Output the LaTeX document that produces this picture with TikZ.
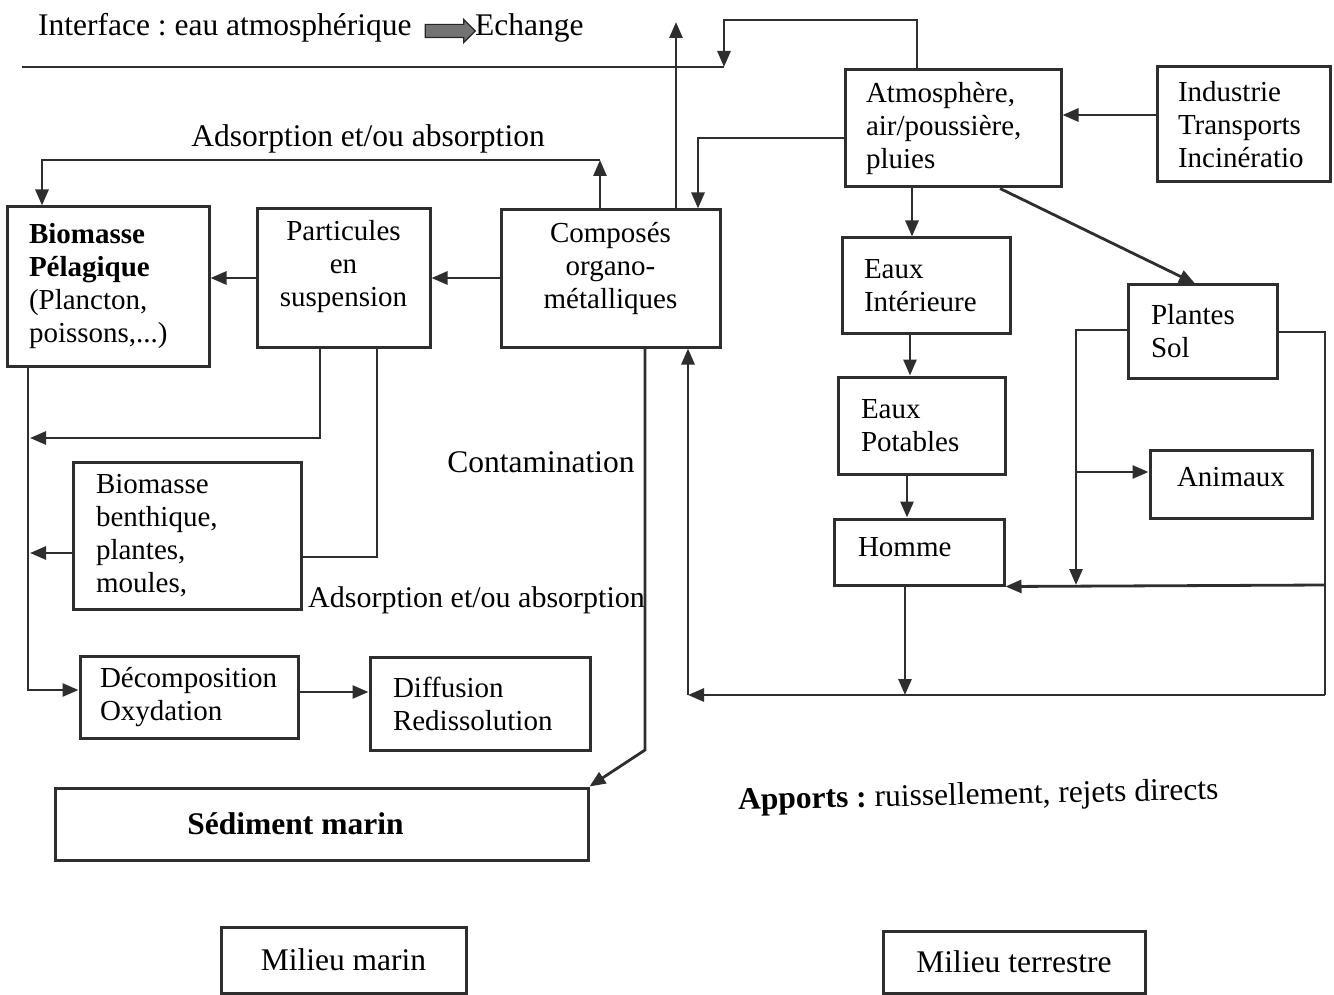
\documentclass[tikz,border=0pt]{standalone}
\usepackage{fontspec}
\setmainfont{Liberation Serif}
\usetikzlibrary{arrows.meta,shapes.arrows}
\hyphenpenalty=10000
\exhyphenpenalty=10000
\frenchspacing
\begin{document}
\begin{tikzpicture}[x=1pt,y=-1pt,
  ln/.style={draw=black!82, line width=2.8pt},
  arr/.style={ln, -{Triangle[length=16pt,width=13pt]}},
  box/.style={draw=black!82, line width=3pt, font=\fontsize{29}{33}\selectfont, inner ysep=0pt},
  lbox/.style={box, align=left},
  cbox/.style={box, align=center},
  lbl/.style={font=\fontsize{31.5}{36}\selectfont, inner sep=0pt}]
\useasboundingbox (0,0) rectangle (1334,995);

% ---- boxes ----
\node[lbox, minimum width=216pt, minimum height=117pt, text width=174pt, inner xsep=21pt] (atm) at (953,128.5) {Atmosphère,\\air/poussière,\\pluies};
\node[lbox, minimum width=173pt, minimum height=115pt, text width=131pt, inner xsep=21pt] (ind) at (1243.5,124.5) {Industrie\\Transports\\Incinératio};
\node[lbox, minimum width=202pt, minimum height=159pt, text width=158pt, inner xsep=22pt] (bp) at (108,286.5) {\textbf{Biomasse}\\\textbf{Pélagique}\\(Plancton,\\poissons,...)};
\node[cbox, minimum width=173pt, minimum height=138pt, text depth=30pt] (part) at (343.5,278) {Particules\\en\\suspension};
\node[cbox, minimum width=219pt, minimum height=137pt, text depth=27pt] (comp) at (610.5,278.5) {Composés\\organo-\\métalliques};
\node[lbox, minimum width=168pt, minimum height=95pt, text width=124pt, inner xsep=22pt] (eint) at (926,285.5) {Eaux\\Intérieure};
\node[lbox, minimum width=149pt, minimum height=93pt, text width=103pt, inner xsep=23pt] (pl) at (1202.5,331.5) {Plantes\\Sol};
\node[lbox, minimum width=167pt, minimum height=97pt, text width=121pt, inner xsep=23pt] (epot) at (921.5,425.5) {Eaux\\Potables};
\node[cbox, minimum width=162pt, minimum height=68pt, text depth=14pt] (anim) at (1231,484) {Animaux};
\node[lbox, minimum width=170pt, minimum height=66pt, text width=122pt, inner xsep=24pt, text depth=10pt] (homme) at (919,552) {Homme};
\node[lbox, minimum width=228pt, minimum height=147pt, text width=182pt, inner xsep=23pt] (bent) at (187,535.5) {Biomasse\\benthique,\\plantes,\\moules,};
\node[lbox, minimum width=218pt, minimum height=82pt, text width=178pt, inner xsep=20pt] (dec) at (189,697) {Décomposition\\Oxydation};
\node[lbox, minimum width=220pt, minimum height=93pt, text width=174pt, inner xsep=23pt] (diff) at (480,703.5) {Diffusion\\Redissolution};
\node[box, minimum width=533pt, minimum height=72pt, font=\fontsize{31.5}{36}\selectfont] (sed) at (321.5,824) {\textbf{Sédiment marin}\kern52pt};
\node[box, minimum width=245pt, minimum height=66pt, font=\fontsize{31.5}{36}\selectfont] (mm) at (343.5,960) {Milieu marin};
\node[box, minimum width=262pt, minimum height=62pt, font=\fontsize{31.5}{36}\selectfont] (mt) at (1014,962) {Milieu terrestre};

% ---- labels ----
\node[lbl, anchor=west] (ifT) at (38,28) {Interface : eau atmosphérique};
\node[single arrow, draw=black!85, fill=black!55, line width=1.2pt, minimum height=50pt, inner sep=6pt, single arrow head extend=5pt] (ifArr) at (447,31) {};
\node[lbl, anchor=west] (ifE) at (475,28) {Echange};
\node[lbl] (ads1) at (368,139) {Adsorption et/ou absorption};
\node[lbl] (cont) at (541,462) {Contamination};
\node[lbl, anchor=west, font=\fontsize{30}{34}\selectfont] (ads2) at (308,600) {Adsorption et/ou absorption};
\node[lbl, anchor=west, rotate=1.2] (app) at (738,802) {\textbf{Apports :} ruissellement, rejets directs};

% ---- connectors ----
\coordinate (ifL) at (22,67);
\coordinate (ifR) at (724,67);
\coordinate (topA) at (724,20);
\draw[ln] (ifL) -- (ifR);
\draw[arr] (atm.north -| 917,0) |- (topA) -- (ifR);

\coordinate (upE) at (676,22);
\draw[arr] (comp.north -| 676,0) -- (upE);
\draw[arr] (atm.west |- 0,138) -| (comp.north -| 698,0);
\draw[arr] (ind.west |- 0,115) -- (atm.east |- 0,115);
\draw[arr] (atm.south -| 912,0) -- (eint.north -| 912,0);
\draw[arr] (atm.south -| 1000,0) -- (pl.north -| 1195,0);
\draw[arr] (eint.south -| 910,0) -- (epot.north -| 910,0);
\draw[arr] (epot.south -| 907,0) -- (homme.north -| 907,0);

\coordinate (plL) at (1076,585);
\draw[arr] (pl.west |- 0,330) -| (plL);
\coordinate (brA) at (1076,472);
\draw[arr] (brA) -- (anim.west |- brA);

\coordinate (rMid) at (1325,585);
\coordinate (rBot) at (1325,695);
\draw[ln] (pl.east |- 0,332) -| (rBot);
\draw[arr] (rMid) -- (homme.south east);
\coordinate (hB) at (905,695);
\draw[arr] (homme.south -| 905,0) -- (hB);
\coordinate (lBot) at (688,695);
\draw[arr] (rBot) -- (lBot);
\draw[arr] (lBot) -- (comp.south -| 688,0);

\coordinate (cBend) at (645,750);
\draw[arr] (comp.south -| 645,0) -- (cBend) -- (sed.north east);

\coordinate (adsT) at (600,160);
\draw[arr] (comp.north -| 600,0) -- (adsT);
\draw[arr] (adsT) -| (bp.north -| 42,0);

\draw[arr] (comp.west |- 0,278) -- (part.east |- 0,278);
\draw[arr] (part.west |- 0,278) -- (bp.east |- 0,278);

\coordinate (lA) at (30,438);
\draw[arr] (part.south -| 320,0) |- (lA);
\draw[ln] (part.south -| 377,0) |- (bent.east |- 0,557);
\coordinate (lB) at (30,553);
\draw[arr] (bent.west |- 0,553) -- (lB);
\draw[arr] (bp.south -| 28,0) |- (dec.west |- 0,690);
\draw[arr] (dec.east |- 0,692) -- (diff.west |- 0,692);
\end{tikzpicture}
\end{document}
